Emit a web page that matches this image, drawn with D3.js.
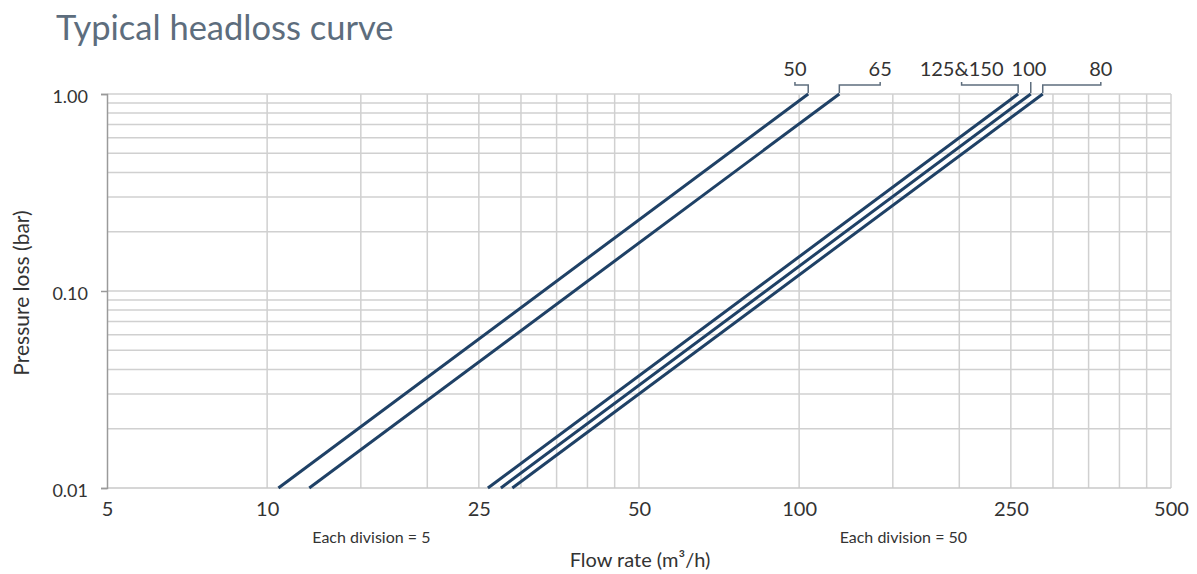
<!DOCTYPE html>
<html>
<head>
<meta charset="utf-8">
<script src="https://cdn.jsdelivr.net/npm/d3@7"></script>
<style>
  html, body { margin: 0; padding: 0; background: #fff; }
  svg { display: block; }
  text { font-family: Lato, "Open Sans", sans-serif; }
</style>
</head>
<body>
<svg id="chart" width="1197" height="574"></svg>
<script>
// ---- data ----
const seriesNames = ["50", "65", "125&150", "100", "80"];
const flowAtLow  = [10.5, 12.0, 26.0, 27.5, 28.9];   // m3/h at 0.01 bar
const flowAtHigh = [104, 119, 258, 272.5, 287];      // m3/h at 1.00 bar
const pressureEnds = [0.01, 1.0];
const labelFlow = [98.2, 142, 202, 270.4, 369];       // where the size labels sit (flow units)
const xTickValues = [5, 10, 25, 50, 100, 250, 500];
const yTickValues = [1.0, 0.1, 0.01];
const yTickLabels = ["1.00", "0.10", "0.01"];
const xGridA = [10, 15, 20, 25, 30, 35, 40, 45, 50];
const xGridB = [100, 150, 200, 250, 300, 350, 400, 450, 500];
const yGrid = [0.02,0.03,0.04,0.05,0.06,0.07,0.08,0.09,0.1,0.2,0.3,0.4,0.5,0.6,0.7,0.8,0.9,1.0];
const divisionNotes = [{text: "Each division = 5", at: 15.7}, {text: "Each division = 50", at: 157}];

// ---- layout ----
const svg = d3.select("#chart");
const x = d3.scaleLog().domain([5, 500]).range([107, 1171]);
const y = d3.scaleLog().domain([0.01, 1]).range([488, 94]);
const lineColor = "#1f4166";
const gridColor = "#d0d0d0";

// title
svg.append("text").attr("x", 56).attr("y", 40)
  .attr("font-size", 34.5).attr("fill", "#5d6d7d")
  .attr("letter-spacing", 0)
  .text("Typical headloss curve");

const g = svg.append("g");

// horizontal grid
g.selectAll("line.hg").data(yGrid).join("line")
  .attr("class", "hg")
  .attr("x1", x(5)).attr("x2", x(500))
  .attr("y1", d => y(d)).attr("y2", d => y(d))
  .attr("stroke", gridColor).attr("stroke-width", 1.5);

// vertical grid
g.selectAll("line.vg").data(xGridA.concat(xGridB)).join("line")
  .attr("class", "vg")
  .attr("x1", d => x(d)).attr("x2", d => x(d))
  .attr("y1", y(1)).attr("y2", y(0.01))
  .attr("stroke", gridColor).attr("stroke-width", 1.5);

// bottom border
g.append("line").attr("x1", x(5)).attr("x2", x(500))
  .attr("y1", y(0.01)).attr("y2", y(0.01))
  .attr("stroke", "#c8c8c8").attr("stroke-width", 1.5);

// y axis
const yAxis = d3.axisLeft(y).tickValues(yTickValues)
  .tickFormat((d, i) => yTickLabels[i]).tickSize(6).tickPadding(13);
const ya = svg.append("g").attr("transform", `translate(${x(5)},0)`).call(yAxis);
ya.select(".domain").attr("stroke", "#9a9a9a").attr("stroke-width", 1.5);
ya.selectAll(".tick line").attr("stroke", "#9a9a9a").attr("stroke-width", 1.5);
ya.selectAll(".tick text").attr("font-size", 18).attr("fill", "#333")
  .attr("font-family", "Lato, sans-serif").attr("dy", "0.45em");

// x axis
const xAxis = d3.axisBottom(x).tickValues(xTickValues)
  .tickFormat(d3.format("d")).tickSize(0).tickPadding(14);
const xa = svg.append("g").attr("transform", `translate(0,${y(0.01)})`).call(xAxis);
xa.select(".domain").remove();
xa.selectAll(".tick text").attr("font-size", 20).attr("fill", "#333")
  .attr("font-family", "Lato, sans-serif");

// division notes
svg.selectAll("text.div").data(divisionNotes).join("text")
  .attr("class", "div")
  .attr("x", d => x(d.at)).attr("y", 543)
  .attr("text-anchor", "middle").attr("font-size", 16).attr("fill", "#333")
  .text(d => d.text);

// axis titles
svg.append("text").attr("x", 640).attr("y", 567)
  .attr("text-anchor", "middle").attr("font-size", 20).attr("fill", "#333")
  .text("Flow rate (m³/h)");
svg.append("text")
  .attr("transform", `translate(29,293) rotate(-90)`)
  .attr("text-anchor", "middle").attr("font-size", 21).attr("fill", "#333")
  .text("Pressure loss (bar)");

// curves
const series = seriesNames.map((name, i) => ({
  name,
  pts: [{q: flowAtLow[i], p: pressureEnds[0]}, {q: flowAtHigh[i], p: pressureEnds[1]}],
  labelQ: labelFlow[i]
}));
const lineGen = d3.line().x(d => x(d.q)).y(d => y(d.p));
svg.selectAll("path.curve").data(series).join("path")
  .attr("class", "curve")
  .attr("d", d => lineGen(d.pts))
  .attr("fill", "none").attr("stroke", lineColor).attr("stroke-width", 3);

// leaders + labels
const leaderTop = 82, leaderMid = 85, leaderEnd = y(1) - 1;
svg.selectAll("path.leader").data(series).join("path")
  .attr("class", "leader")
  .attr("d", d => {
    const lx = x(d.labelQ), ex = x(d.pts[1].q);
    if (Math.abs(lx - ex) < 3) return `M${ex},${leaderTop}V${leaderEnd}`;
    return `M${lx},${leaderTop}V${leaderMid}H${ex}V${leaderEnd}`;
  })
  .attr("fill", "none").attr("stroke", "#5d6d7d").attr("stroke-width", 1.5);
svg.selectAll("text.lbl").data(series).join("text")
  .attr("class", "lbl")
  .attr("x", d => x(d.labelQ)).attr("y", 76)
  .attr("text-anchor", "middle").attr("font-size", 20).attr("fill", "#333")
  .text(d => d.name);
</script>
</body>
</html>
